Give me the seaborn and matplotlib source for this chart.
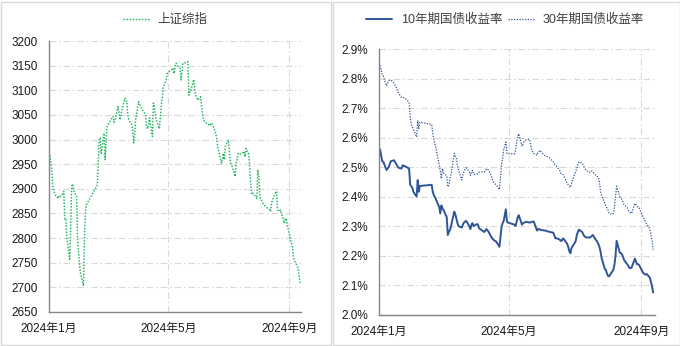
import matplotlib
matplotlib.use("Agg")
import matplotlib.pyplot as plt
from matplotlib.patches import Rectangle
from matplotlib.ticker import FixedLocator, FuncFormatter
import pandas as pd
import seaborn as sns

# ---- Shanghai Composite (daily close) ----
sse_dates = [
    "01-02", "01-03", "01-04", "01-05", "01-08", "01-09", "01-10", "01-11", "01-12",
    "01-15", "01-16", "01-17", "01-18", "01-19", "01-22", "01-23", "01-24", "01-25",
    "01-26", "01-29", "01-30", "01-31", "02-01", "02-02", "02-05", "02-06", "02-07",
    "02-08", "02-19", "02-20", "02-21", "02-22", "02-23", "02-26", "02-27", "02-28",
    "02-29", "03-01", "03-04", "03-05", "03-06", "03-07", "03-08", "03-11", "03-12",
    "03-13", "03-14", "03-15", "03-18", "03-19", "03-20", "03-21", "03-22", "03-25",
    "03-26", "03-27", "03-28", "03-29", "04-01", "04-02", "04-03", "04-08", "04-09",
    "04-10", "04-11", "04-12", "04-15", "04-16", "04-17", "04-18", "04-19", "04-22",
    "04-23", "04-24", "04-25", "04-26", "04-29", "04-30", "05-06", "05-07", "05-08",
    "05-09", "05-10", "05-13", "05-14", "05-15", "05-16", "05-17", "05-20", "05-21",
    "05-22", "05-23", "05-24", "05-27", "05-28", "05-29", "05-30", "05-31", "06-03",
    "06-04", "06-05", "06-06", "06-07", "06-11", "06-12", "06-13", "06-14", "06-17",
    "06-18", "06-19", "06-20", "06-21", "06-24", "06-25", "06-26", "06-27", "06-28",
    "07-01", "07-02", "07-03", "07-04", "07-05", "07-08", "07-09", "07-10", "07-11",
    "07-12", "07-15", "07-16", "07-17", "07-18", "07-19", "07-22", "07-23", "07-24",
    "07-25", "07-26", "07-29", "07-30", "07-31", "08-01", "08-02", "08-05", "08-06",
    "08-07", "08-08", "08-09", "08-12", "08-13", "08-14", "08-15", "08-16", "08-19",
    "08-20", "08-21", "08-22", "08-23", "08-26", "08-27", "08-28", "08-29", "08-30",
    "09-02", "09-03", "09-04", "09-05", "09-06", "09-09", "09-10", "09-11", "09-12",
]
sse_close = [
    2968, 2950, 2932, 2900, 2886, 2884, 2880, 2886, 2884,
    2890, 2895, 2837, 2838, 2803, 2757, 2824, 2905, 2910,
    2897, 2884, 2797, 2770, 2745, 2729, 2703, 2797, 2851,
    2868, 2907, 2952, 3003, 3003, 2972, 3013, 2959, 3000,
    3026, 3030, 3040, 3045, 3047, 3035, 3040, 3067, 3055,
    3040, 3050, 3060, 3084, 3078, 3078, 3050, 3040, 3030,
    3020, 2993, 3010, 3040, 3077, 3072, 3067, 3050, 3026,
    3022, 3030, 3044, 3006, 3074, 3067, 3050, 3040, 3022,
    3044, 3070, 3084, 3107, 3121, 3134, 3145, 3134, 3150,
    3155, 3151, 3145, 3121, 3135, 3155, 3155, 3157, 3158,
    3090, 3100, 3100, 3122, 3100, 3090, 3085, 3080, 3087,
    3065, 3050, 3040, 3036, 3030, 3033, 3030, 3033, 3021,
    3015, 3006, 2990, 2979, 2952, 2960, 2972, 2959, 2986,
    2999, 2980, 2955, 2950, 2945, 2925, 2955, 2960, 2972,
    2970, 2972, 2974, 2976, 2965, 2982, 2969, 2932, 2905,
    2888, 2891, 2884, 2880, 2939, 2925, 2884, 2871, 2868,
    2866, 2864, 2862, 2858, 2854, 2871, 2878, 2884, 2895,
    2857, 2856, 2854, 2857, 2837, 2830, 2840, 2838, 2825,
    2800, 2790, 2786, 2763, 2755, 2743, 2739, 2720, 2709,
]

# ---- China government bond yields (%) ----
bond_dates = [
    "01-02", "01-04", "01-05", "01-08", "01-10", "01-12", "01-15", "01-17", "01-19",
    "01-22", "01-23", "01-25", "01-29", "01-30", "01-31", "02-01", "02-02", "02-05",
    "02-06", "02-07", "02-08", "02-19", "02-20", "02-21", "02-22", "02-23", "02-26",
    "02-27", "02-28", "02-29", "03-01", "03-04", "03-05", "03-06", "03-07", "03-08",
    "03-11", "03-12", "03-13", "03-14", "03-15", "03-18", "03-19", "03-20", "03-21",
    "03-22", "03-25", "03-26", "03-27", "03-28", "03-29", "04-01", "04-02", "04-03",
    "04-08", "04-09", "04-10", "04-11", "04-12", "04-15", "04-16", "04-17", "04-18",
    "04-19", "04-22", "04-23", "04-24", "04-25", "04-26", "04-28", "04-29", "04-30",
    "05-06", "05-07", "05-08", "05-09", "05-10", "05-13", "05-14", "05-15", "05-16",
    "05-17", "05-20", "05-21", "05-22", "05-23", "05-24", "05-27", "05-28", "05-29",
    "05-30", "05-31", "06-03", "06-04", "06-05", "06-06", "06-07", "06-11", "06-12",
    "06-13", "06-14", "06-17", "06-18", "06-19", "06-20", "06-21", "06-24", "06-25",
    "06-26", "06-27", "06-28", "07-01", "07-02", "07-03", "07-04", "07-05", "07-08",
    "07-09", "07-10", "07-11", "07-12", "07-15", "07-16", "07-17", "07-18", "07-19",
    "07-22", "07-23", "07-24", "07-25", "07-26", "07-29", "07-30", "07-31", "08-01",
    "08-02", "08-05", "08-06", "08-07", "08-08", "08-09", "08-12", "08-13", "08-14",
    "08-15", "08-16", "08-19", "08-20", "08-21", "08-22", "08-23", "08-26", "08-27",
    "08-28", "08-29", "08-30", "09-02", "09-03", "09-04", "09-05", "09-06", "09-09",
    "09-10", "09-11", "09-12",
]
yield_10y = [
    2.560, 2.520, 2.518, 2.490, 2.500, 2.520, 2.523, 2.510, 2.498,
    2.495, 2.506, 2.503, 2.495, 2.440, 2.435, 2.430, 2.416, 2.400,
    2.456, 2.416, 2.436, 2.440, 2.416, 2.405, 2.398, 2.390, 2.365,
    2.343, 2.370, 2.360, 2.355, 2.330, 2.270, 2.280, 2.287, 2.300,
    2.349, 2.340, 2.325, 2.310, 2.300, 2.295, 2.305, 2.312, 2.315,
    2.318, 2.300, 2.290, 2.305, 2.310, 2.300, 2.307, 2.305, 2.293,
    2.280, 2.285, 2.290, 2.285, 2.280, 2.260, 2.256, 2.252, 2.250,
    2.248, 2.230, 2.265, 2.298, 2.310, 2.318, 2.357, 2.315, 2.312,
    2.305, 2.300, 2.315, 2.330, 2.337, 2.305, 2.310, 2.312, 2.313,
    2.315, 2.312, 2.313, 2.314, 2.315, 2.315, 2.285, 2.290, 2.290,
    2.288, 2.287, 2.285, 2.285, 2.283, 2.282, 2.281, 2.278, 2.270,
    2.259, 2.259, 2.255, 2.250, 2.250, 2.258, 2.256, 2.240, 2.230,
    2.215, 2.208, 2.225, 2.243, 2.250, 2.270, 2.280, 2.288, 2.280,
    2.272, 2.266, 2.263, 2.262, 2.261, 2.264, 2.267, 2.270, 2.263,
    2.247, 2.240, 2.230, 2.215, 2.193, 2.155, 2.152, 2.140, 2.131,
    2.130, 2.146, 2.152, 2.170, 2.200, 2.250, 2.210, 2.208, 2.205,
    2.195, 2.185, 2.170, 2.165, 2.158, 2.158, 2.160, 2.190, 2.180,
    2.171, 2.171, 2.168, 2.146, 2.141, 2.137, 2.136, 2.138, 2.125,
    2.110, 2.095, 2.075,
]
yield_30y = [
    2.845, 2.812, 2.808, 2.775, 2.793, 2.795, 2.785, 2.770, 2.752,
    2.735, 2.736, 2.734, 2.720, 2.669, 2.645, 2.636, 2.628, 2.602,
    2.658, 2.630, 2.652, 2.645, 2.613, 2.595, 2.578, 2.563, 2.510,
    2.485, 2.461, 2.495, 2.480, 2.470, 2.433, 2.439, 2.460, 2.475,
    2.546, 2.537, 2.530, 2.505, 2.490, 2.456, 2.475, 2.485, 2.492,
    2.498, 2.485, 2.472, 2.483, 2.489, 2.475, 2.476, 2.480, 2.483,
    2.484, 2.490, 2.495, 2.492, 2.489, 2.465, 2.452, 2.447, 2.443,
    2.440, 2.424, 2.461, 2.512, 2.530, 2.560, 2.585, 2.545, 2.545,
    2.545, 2.557, 2.585, 2.600, 2.613, 2.570, 2.580, 2.588, 2.591,
    2.592, 2.594, 2.575, 2.557, 2.550, 2.546, 2.540, 2.550, 2.554,
    2.557, 2.550, 2.540, 2.537, 2.536, 2.535, 2.533, 2.518, 2.512,
    2.506, 2.504, 2.490, 2.480, 2.478, 2.475, 2.470, 2.445, 2.440,
    2.435, 2.431, 2.445, 2.477, 2.485, 2.495, 2.510, 2.518, 2.513,
    2.506, 2.498, 2.492, 2.487, 2.483, 2.488, 2.487, 2.484, 2.478,
    2.468, 2.467, 2.450, 2.420, 2.405, 2.378, 2.370, 2.360, 2.355,
    2.343, 2.340, 2.343, 2.365, 2.400, 2.435, 2.400, 2.395, 2.390,
    2.380, 2.372, 2.362, 2.352, 2.349, 2.346, 2.343, 2.377, 2.372,
    2.366, 2.366, 2.362, 2.335, 2.330, 2.320, 2.316, 2.307, 2.290,
    2.270, 2.250, 2.220,
]

# ---- axis labelling ----
month_ticks = ["2024-01-01", "2024-05-01", "2024-09-01"]
month_labels = ["2024年1月", "2024年5月", "2024年9月"]
sse_ticks = [2650, 2700, 2750, 2800, 2850, 2900, 2950, 3000, 3050, 3100, 3150, 3200]
yield_ticks = [2.0, 2.1, 2.2, 2.3, 2.4, 2.5, 2.6, 2.7, 2.8, 2.9]

sse_name = "上证综指"
y10_name = "10年期国债收益率"
y30_name = "30年期国债收益率"

sns.set_style("white")
plt.rcParams["font.family"] = ["Liberation Sans", "Noto Sans CJK SC", "DejaVu Sans"]
plt.rcParams["axes.unicode_minus"] = False

W, H = 680, 346
fig = plt.figure(figsize=(W / 100, H / 100), dpi=100)
fig.patch.set_facecolor("white")


def px_axes(x0, y0, x1, y1):
    return fig.add_axes([x0 / W, 1 - y1 / H, (x1 - x0) / W, (y1 - y0) / H])


ax1 = px_axes(49, 41, 301, 312)
ax2 = px_axes(379, 49, 655, 314.7)

sse_df = pd.DataFrame({"date": pd.to_datetime(["2024-" + d for d in sse_dates]),
                       "close": sse_close})
bond_df = pd.DataFrame({"date": pd.to_datetime(["2024-" + d for d in bond_dates]),
                        "y10": yield_10y, "y30": yield_30y})

green = "#1DB45E"
navy = "#2F5597"

sns.lineplot(data=sse_df, x="date", y="close", ax=ax1, color=green, lw=1.05,
             linestyle=(0, (1, 1.1)), label=sse_name)
sns.lineplot(data=bond_df, x="date", y="y10", ax=ax2, color=navy, lw=1.4,
             label=y10_name)
sns.lineplot(data=bond_df, x="date", y="y30", ax=ax2, color=navy, lw=0.9,
             linestyle=(0, (1, 1.2)), label=y30_name)

grid_kw = dict(color="#D9D9D9", lw=0.8, dashes=(6, 2.5, 1.5, 2.5))
tick_dates = pd.to_datetime(month_ticks)

for ax in (ax1, ax2):
    ax.set_xlabel("")
    ax.set_ylabel("")
    ax.xaxis.set_major_locator(FixedLocator([matplotlib.dates.date2num(d) for d in tick_dates]))
    ax.set_xticklabels(month_labels)
    for s in ("top", "right"):
        ax.spines[s].set_visible(False)
    for s in ("left", "bottom"):
        ax.spines[s].set_color("#868686")
        ax.spines[s].set_linewidth(1.0)
    ax.grid(True, which="major", **grid_kw)
    ax.set_axisbelow(True)
    ax.tick_params(axis="x", direction="out", length=4, width=1, color="#868686",
                   labelsize=8.5, labelcolor="#1a1a1a", pad=4)
    ax.tick_params(axis="y", direction="in", length=3, width=1, color="#868686",
                   labelsize=8.5, labelcolor="#1a1a1a", pad=8)
    ax.legend().remove()

ax1.set_xlim(pd.Timestamp("2024-01-01"), pd.Timestamp("2024-09-12 20:00"))
ax1.set_ylim(2650, 3200)
ax1.yaxis.set_major_locator(FixedLocator(sse_ticks))
ax1.yaxis.set_major_formatter(FuncFormatter(lambda v, p: f"{v:.0f}"))

ax2.set_xlim(pd.Timestamp("2024-01-01"), pd.Timestamp("2024-09-13 17:00"))
ax2.set_ylim(2.0, 2.9)
ax2.yaxis.set_major_locator(FixedLocator(yield_ticks))
ax2.yaxis.set_major_formatter(FuncFormatter(lambda v, p: f"{v:.1f}%"))

# legends above each panel
leg_kw = dict(frameon=False, fontsize=9, handlelength=2.1, handletextpad=0.7,
              borderaxespad=0, labelcolor="#404040")
h1, l1 = ax1.get_legend_handles_labels()
fig.legend(h1, l1, loc="center", bbox_to_anchor=(165 / W, 1 - 20 / H), **leg_kw)
h2, l2 = ax2.get_legend_handles_labels()
fig.legend(h2, l2, loc="center", ncol=2, columnspacing=0.4,
           bbox_to_anchor=(505 / W, 1 - 20 / H), **leg_kw)

# panel frames
for x0, x1 in ((0.5, 331), (333, 679.5)):
    fig.add_artist(Rectangle((x0 / W, 1.5 / H), (x1 - x0) / W, (H - 3) / H,
                             transform=fig.transFigure, fill=False,
                             ec="#D9D9D9", lw=1.0))

fig.savefig("out.png", dpi=100, facecolor="white")
